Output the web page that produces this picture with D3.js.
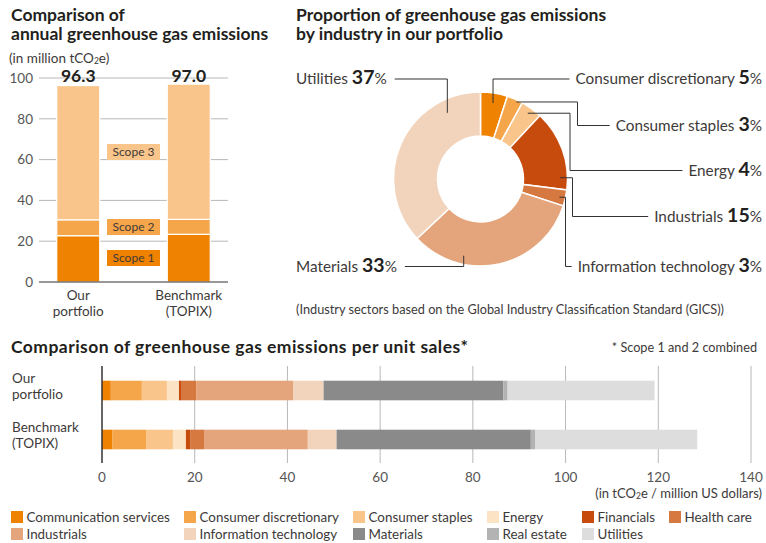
<!DOCTYPE html>
<html><head><meta charset="utf-8">
<script src="https://cdn.jsdelivr.net/npm/d3@7"></script>
<style>
html,body{margin:0;padding:0;background:#fff;}
svg{display:block;font-family:Lato,"Noto Sans",sans-serif;}
</style></head>
<body>
<svg id="chart" width="766" height="543"></svg>
<script>
// ---------- DATA ----------
const scopeCategories = ["Our portfolio", "Benchmark (TOPIX)"];
const scopeCategoryLines = [["Our","portfolio"],["Benchmark","(TOPIX)"]];
const scope1 = [22.7, 23.4];
const scope2 = [7.8, 7.3];
const scope3 = [65.8, 66.3];
const scopeTotals = ["96.3", "97.0"];
const scopeNames = ["Scope 1", "Scope 2", "Scope 3"];
const scopeTicks = [0, 20, 40, 60, 80, 100];

const donutIndustries = ["Consumer discretionary", "Consumer staples", "Energy", "Industrials",
  "Information technology", "Materials", "Utilities"];
const donutShares = [5, 3, 4, 15, 3, 33, 37];

const sectors = ["Communication services", "Consumer discretionary", "Consumer staples", "Energy",
  "Financials", "Health care", "Industrials", "Information technology", "Materials", "Real estate", "Utilities"];
const ourIntensity   = [1.9, 6.7, 5.4, 2.6, 0.6, 3.1, 20.9, 6.6, 38.8, 0.9, 31.7];
const benchIntensity = [2.2, 7.3, 5.8, 2.8, 0.9, 3.0, 22.4, 6.2, 41.9, 1.0, 34.9];
const intensityRows = [["Our","portfolio"],["Benchmark","(TOPIX)"]];
const intensityTicks = [0, 20, 40, 60, 80, 100, 120, 140];

// ---------- STYLE ----------
const sectorColors = ["#ef8200", "#f5a54a", "#f9c58a", "#fce3c4", "#c84b0e", "#d57940",
  "#e4a57c", "#f2d4bc", "#8a8a8a", "#b3b3b3", "#dcdddc"];
const scopeColors = ["#ef8200", "#f5a54a", "#f9c58a"];
const donutColors = ["#ef8200", "#f5a54a", "#f9c58a", "#c84b0e", "#d57940", "#e4a57c", "#f2d4bc"];
const TXT = "#3d3a39", TITLE = "#231f20", GRID = "#b8b8b8", AXIS = "#333";

const svg = d3.select("#chart");

function title(lines, x, y0, dy, spacing) {
  const t = svg.append("text").attr("x", x).attr("y", y0)
    .attr("font-size", 17.5).attr("font-weight", 700).attr("fill", TITLE)
    .attr("letter-spacing", spacing || 0);
  lines.forEach((l, i) => t.append("tspan").attr("x", x).attr("dy", i ? dy : 0).text(l));
}

// ---------- CHART 1: stacked scopes ----------
title(["Comparison of", "annual greenhouse gas emissions"], 11, 21, 19);
{
  const u = svg.append("text").attr("x", 9).attr("y", 63).attr("font-size", 13.5).attr("fill", TXT);
  u.append("tspan").text("(in million tCO");
  u.append("tspan").attr("font-size", 8.5).attr("dy", 1).text("2");
  u.append("tspan").attr("dy", -1).text("e)");

  const y = d3.scaleLinear().domain([0, 100]).range([282, 78]);
  const x = d3.scalePoint().domain(scopeCategories).range([39, 228]).padding(0.355);
  const bw = 43;
  const g = svg.append("g");
  g.selectAll("line.grid").data(scopeTicks.filter(d => d > 0)).join("line")
    .attr("x1", 39).attr("x2", 228).attr("y1", d => y(d)).attr("y2", d => y(d))
    .attr("stroke", GRID).attr("stroke-width", 1);
  g.selectAll("text.tick").data(scopeTicks).join("text")
    .attr("x", 33).attr("y", d => y(d)).attr("dy", "0.35em").attr("text-anchor", "end")
    .attr("font-size", 13.5).attr("fill", "#555").text(d => d);

  const rows = scopeCategories.map((c, i) => ({cat: c, s1: scope1[i], s2: scope2[i], s3: scope3[i]}));
  const stack = d3.stack().keys(["s1", "s2", "s3"])(rows);
  stack.forEach((layer, li) => {
    g.selectAll(null).data(layer).join("rect")
      .attr("x", d => x(d.data.cat) - bw / 2).attr("width", bw)
      .attr("y", d => y(d[1])).attr("height", d => y(d[0]) - y(d[1]))
      .attr("fill", scopeColors[li]).attr("stroke", "#fff").attr("stroke-width", 1.2);
  });
  g.append("line").attr("x1", 39).attr("x2", 228).attr("y1", y(0)).attr("y2", y(0))
    .attr("stroke", AXIS).attr("stroke-width", 1.2);

  g.selectAll("text.total").data(rows).join("text")
    .attr("x", d => x(d.cat)).attr("y", 82).attr("text-anchor", "middle")
    .attr("font-size", 17.5).attr("font-weight", 700).attr("fill", TITLE)
    .text((d, i) => scopeTotals[i]);

  // scope label boxes (between bars)
  const midX = (x(scopeCategories[0]) + x(scopeCategories[1])) / 2;
  const boxY = [258, 227, 152];
  scopeNames.forEach((n, i) => {
    g.append("rect").attr("x", midX - 26.5).attr("y", boxY[i] - 8).attr("width", 53).attr("height", 16)
      .attr("fill", scopeColors[i]);
    g.append("text").attr("x", midX).attr("y", boxY[i]).attr("dy", "0.35em").attr("text-anchor", "middle")
      .attr("font-size", 12).attr("fill", TXT).text(n);
  });

  scopeCategoryLines.forEach((lines, i) => {
    const t = g.append("text").attr("x", x(scopeCategories[i])).attr("y", 300)
      .attr("text-anchor", "middle").attr("font-size", 13.5).attr("fill", TXT);
    lines.forEach((l, j) => t.append("tspan").attr("x", x(scopeCategories[i])).attr("dy", j ? 16 : 0).text(l));
  });
}

// ---------- CHART 2: donut ----------
title(["Proportion of greenhouse gas emissions", "by industry in our portfolio"], 296, 21, 19);
{
  const cx = 480.5, cy = 179, R = 87, r0 = 43;
  const g = svg.append("g").attr("transform", `translate(${cx},${cy})`);
  const pie = d3.pie().sort(null).value(d => d)(donutShares);
  const arc = d3.arc().innerRadius(r0).outerRadius(R);
  g.selectAll("path").data(pie).join("path").attr("d", arc)
    .attr("fill", (d, i) => donutColors[i]).attr("stroke", "#fff").attr("stroke-width", 1.5);

  // label layout: anchor fraction within slice, anchor radius, label y, side, elbow x
  const layout = [
    {f: 0.52, r: 77, ly: 79,  side: "R", type: "up"},
    {f: 0.65, r: 85, ly: 125.5, side: "R", type: "elbow", ex: 577.5},
    {f: 0.48, r: 81, ly: 170.5, side: "R", type: "elbow", ex: 570},
    {f: 0.85, r: 79.5, ly: 216.5, side: "R", type: "elbow", ex: 572.5},
    {f: 0.54, r: 81, ly: 266.5, side: "R", type: "elbow", ex: 565.5},
    {f: 0.71, r: 78.5, ly: 266.5, side: "L", type: "down"},
    {f: 0.80, r: 74, ly: 79, side: "L", type: "up"}
  ];
  pie.forEach((d, i) => {
    const L = layout[i];
    const a = d.startAngle + L.f * (d.endAngle - d.startAngle);
    const ax = cx + L.r * Math.sin(a), ay = cy - L.r * Math.cos(a);
    const t = svg.append("text").attr("y", L.ly).attr("dy", "0.35em").attr("fill", TXT)
      .attr("font-size", 15.3)
      .attr("x", L.side === "R" ? 762 : 296).attr("text-anchor", L.side === "R" ? "end" : "start");
    t.append("tspan").text(donutIndustries[i] + " ");
    t.append("tspan").attr("font-size", 19.5).attr("font-weight", 700).attr("fill", TITLE).text(donutShares[i]);
    t.append("tspan").text("%");
    const bb = t.node().getBBox();
    let pts;
    if (L.side === "R") {
      const endX = bb.x - 6;
      if (L.type === "up") pts = [[ax, ay], [ax, L.ly], [endX, L.ly]];
      else pts = [[ax, ay], [L.ex, ay], [L.ex, L.ly], [endX, L.ly]];
    } else {
      const endX = bb.x + bb.width + 8;
      pts = [[ax, ay], [ax, L.ly], [endX, L.ly]];
    }
    svg.append("path").attr("d", d3.line()(pts)).attr("fill", "none")
      .attr("stroke", AXIS).attr("stroke-width", 1);
  });

  svg.append("text").attr("x", 296).attr("y", 310).attr("dy", "0.35em")
    .attr("font-size", 12.75).attr("fill", TXT)
    .text("(Industry sectors based on the Global Industry Classification Standard (GICS))");
}

// ---------- CHART 3: horizontal stacked ----------
title(["Comparison of greenhouse gas emissions per unit sales*"], 11, 353, 0, 0.45);
{
  svg.append("text").attr("x", 757).attr("y", 348).attr("dy", "0.35em").attr("text-anchor", "end")
    .attr("font-size", 12.7).attr("fill", TXT).text("* Scope 1 and 2 combined");

  const x = d3.scaleLinear().domain([0, 140]).range([102, 751]);
  const yRows = ["our", "bench"];
  const y = d3.scaleBand().domain(yRows).range([366, 464]).paddingInner(0.6).paddingOuter(0.3);
  const g = svg.append("g");
  g.selectAll("line.grid").data(intensityTicks.filter(d => d > 0)).join("line")
    .attr("x1", d => x(d)).attr("x2", d => x(d)).attr("y1", 366).attr("y2", 463)
    .attr("stroke", GRID).attr("stroke-width", 1);

  const rows = [ourIntensity, benchIntensity].map((vals, i) => {
    const o = {row: yRows[i]};
    sectors.forEach((s, j) => o[s] = vals[j]);
    return o;
  });
  const stack = d3.stack().keys(sectors)(rows);
  stack.forEach((layer, li) => {
    g.selectAll(null).data(layer).join("rect")
      .attr("x", d => x(d[0])).attr("width", d => x(d[1]) - x(d[0]))
      .attr("y", d => y(d.data.row)).attr("height", y.bandwidth())
      .attr("fill", sectorColors[li]);
  });
  g.append("line").attr("x1", x(0)).attr("x2", x(0)).attr("y1", 366).attr("y2", 463)
    .attr("stroke", AXIS).attr("stroke-width", 1.5);

  g.selectAll("text.tick").data(intensityTicks).join("text")
    .attr("x", d => x(d)).attr("y", 477).attr("dy", "0.35em").attr("text-anchor", "middle")
    .attr("font-size", 13.5).attr("fill", "#555").text(d => d);

  const u = g.append("text").attr("x", 762).attr("y", 493).attr("dy", "0.35em").attr("text-anchor", "end")
    .attr("font-size", 13).attr("fill", TXT);
  u.append("tspan").text("(in tCO");
  u.append("tspan").attr("font-size", 8.5).attr("dy", 1).text("2");
  u.append("tspan").attr("dy", -1).text("e / million US dollars)");

  intensityRows.forEach((lines, i) => {
    const cyRow = y(yRows[i]) + y.bandwidth() / 2;
    const t = g.append("text").attr("x", 12).attr("y", cyRow - 8).attr("dy", "0.35em")
      .attr("font-size", 13.5).attr("fill", TXT);
    lines.forEach((l, j) => t.append("tspan").attr("x", 12).attr("dy", j ? 16 : 0).text(l));
  });

  // legend
  const colX = [11, 184, 353, 487, 582, 669];
  const rowY = [517, 534];
  const lg = svg.append("g");
  sectors.forEach((s, i) => {
    const c = i < 6 ? i : i - 6, r = i < 6 ? 0 : 1;
    lg.append("rect").attr("x", colX[c]).attr("y", rowY[r] - 6).attr("width", 12).attr("height", 12)
      .attr("fill", sectorColors[i]);
    lg.append("text").attr("x", colX[c] + 15.5).attr("y", rowY[r]).attr("dy", "0.35em")
      .attr("font-size", 13.4).attr("fill", TXT).text(s);
  });
}
</script>
</body></html>
